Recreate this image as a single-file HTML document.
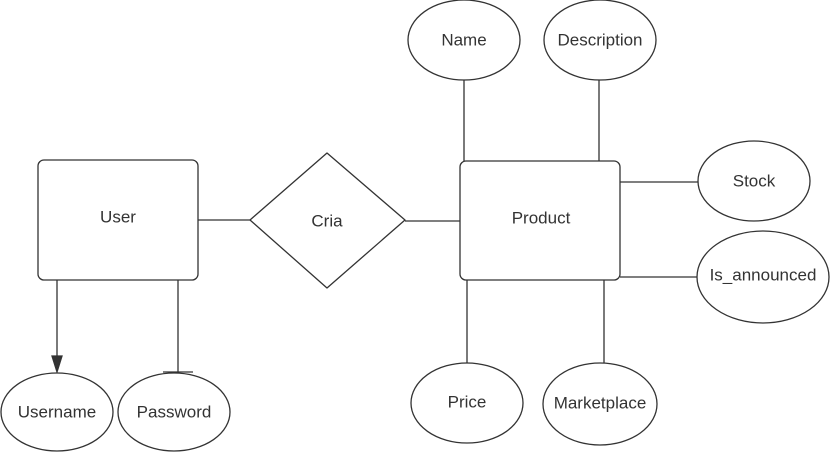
<!DOCTYPE html>
<html><head><style>body{margin:0;background:#fff}svg{display:block}text{font-family:"Liberation Sans",sans-serif;font-size:17px;fill:#333;text-anchor:middle;dominant-baseline:central}</style></head>
<body>
<svg width="830" height="453" viewBox="0 0 830 453" xmlns="http://www.w3.org/2000/svg">
<g fill="#fff" stroke="#333" stroke-width="1.3">
<line x1="198" y1="220" x2="250" y2="220"/>
<line x1="405" y1="221" x2="460" y2="221"/>
<line x1="57" y1="280" x2="57" y2="366"/>
<polygon points="52,356 62,356 57,372" fill="#333"/>
<line x1="178" y1="280" x2="178" y2="372"/>
<line x1="163" y1="372" x2="193" y2="372"/>
<line x1="464" y1="80" x2="464" y2="161"/>
<line x1="599" y1="80" x2="599" y2="161"/>
<line x1="620" y1="182" x2="698" y2="182"/>
<line x1="620" y1="277" x2="697" y2="277"/>
<line x1="467" y1="280" x2="467" y2="363"/>
<line x1="604" y1="280" x2="604" y2="363"/>
<rect x="38" y="160" width="160" height="120" rx="6"/>
<rect x="460" y="161" width="160" height="119" rx="6"/>
<path d="M327,153 L405,220 L327,288 L250,220 Z" stroke-linejoin="round"/>
<ellipse cx="57" cy="412" rx="56" ry="39"/>
<ellipse cx="174" cy="412" rx="56" ry="39"/>
<ellipse cx="464" cy="40" rx="56" ry="40"/>
<ellipse cx="600" cy="40" rx="56" ry="40"/>
<ellipse cx="754" cy="181" rx="56" ry="40"/>
<ellipse cx="763" cy="277" rx="66" ry="46"/>
<ellipse cx="467" cy="403" rx="56" ry="40"/>
<ellipse cx="600" cy="404" rx="57" ry="41"/>
</g>
<text x="118" y="217">User</text>
<text x="327" y="221">Cria</text>
<text x="541" y="218">Product</text>
<text x="57" y="412">Username</text>
<text x="174" y="412">Password</text>
<text x="464" y="40">Name</text>
<text x="600" y="40">Description</text>
<text x="754" y="181">Stock</text>
<text x="763" y="275">Is_announced</text>
<text x="467" y="402">Price</text>
<text x="600" y="403">Marketplace</text>
</svg>
</body></html>
